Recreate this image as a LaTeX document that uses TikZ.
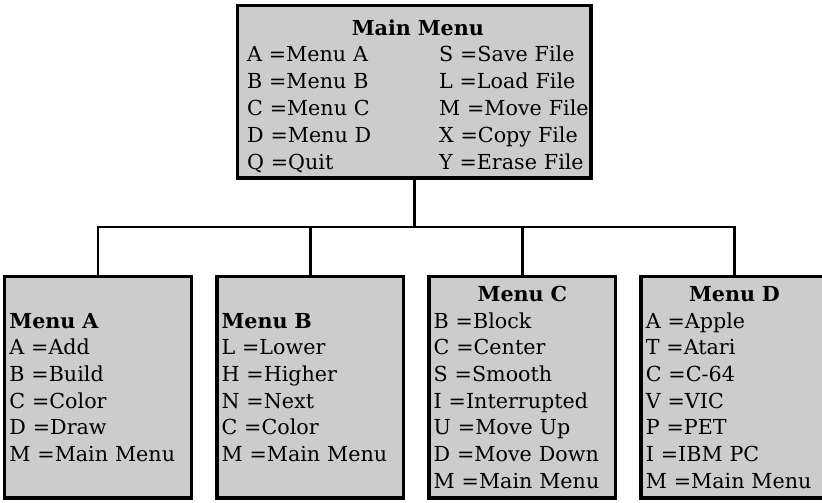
\documentclass[tikz,border=0pt]{standalone}
\usepackage{fontspec}
\setmainfont{DejaVu Serif}
\usetikzlibrary{positioning}
\definecolor{stipple}{gray}{0.8}
\tikzset{
  menubox/.style={draw, line width=2.6pt, fill=stipple, inner xsep=3.5pt,
                  inner ysep=2pt, align=left, text width=133pt,
                  minimum height=166pt, anchor=north west,
                  font=\fontsize{15.5}{20}\selectfont},
  link/.style={line width=2pt},
}
\newcommand{\boxhead}[1]{{\centering\textbf{#1}\par}}

\begin{document}
\begin{tikzpicture}[x=0.75pt, y=-0.75pt, node distance=16.5pt]
  \useasboundingbox (0,0) rectangle (822,503);
  \node[menubox, inner xsep=7pt, inner ysep=0pt, text width=251pt,
        minimum height=127pt, font=\fontsize{15.5}{20.2}\selectfont] (main) at (236,4)
       {\begin{tabular}{@{}p{144pt}@{}l@{}}
          \multicolumn{2}{@{}c@{}}{\rule{0pt}{22pt}\textbf{Main Menu}}\\
          A =Menu A & S =Save File\\
          B =Menu B & L =Load File\\
          C =Menu C & M =Move File\\
          D =Menu D & X =Copy File\\
          Q =Quit   & Y =Erase File
        \end{tabular}};
  \node[menubox] (ma) at (3,275)
       {\textbf{Menu A}\\ A =Add\\ B =Build\\ C =Color\\ D =Draw\\ M =Main Menu};
  \node[menubox, right=of ma] (mb)
       {\textbf{Menu B}\\ L =Lower\\ H =Higher\\ N =Next\\ C =Color\\ M =Main Menu};
  \node[menubox, right=of mb] (mc)
       {\boxhead{Menu C}
        B =Block\\ C =Center\\ S =Smooth\\ I =Interrupted\\ U =Move Up\\
        D =Move Down\\ M =Main Menu};
  \node[menubox, right=of mc] (md)
       {\boxhead{Menu D}
        A =Apple\\ T =Atari\\ C =C-64\\ V =VIC\\ P =PET\\ I =IBM PC\\
        M =Main Menu};
  % tree lines
  \coordinate (hub) at (main.south |- 0,227);
  \draw[link] (main) -- (hub);
  \foreach \m in {ma,mb,mc,md}
    \draw[link] (hub) -| (\m.north);
\end{tikzpicture}
\end{document}
